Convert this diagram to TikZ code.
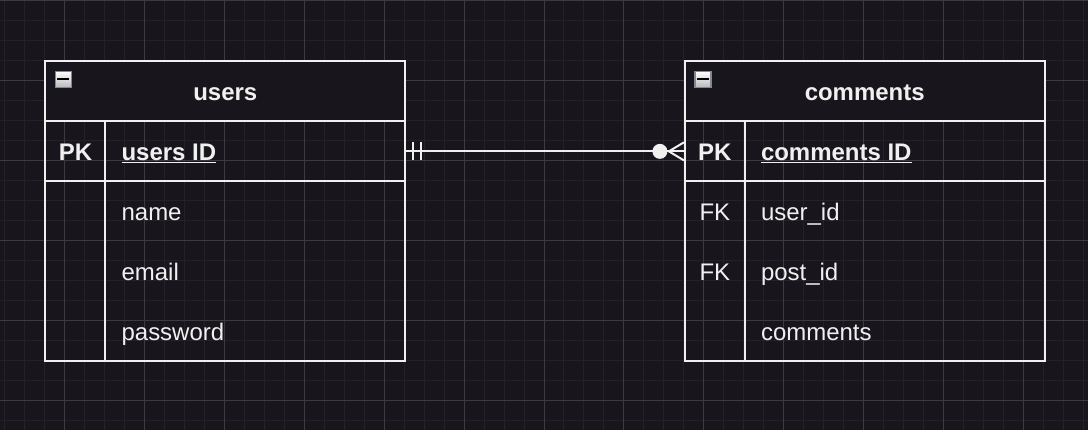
\documentclass[tikz,border=0pt]{standalone}
\usepackage{fontspec}
\setmainfont{Liberation Sans}
\definecolor{bgdark}{RGB}{24,22,28}
\definecolor{gridminor}{RGB}{36,34,41}
\definecolor{gridmajor}{RGB}{60,59,64}
\definecolor{linewhite}{RGB}{240,240,240}
\definecolor{iconedge}{RGB}{128,136,150}

\begin{document}
\begin{tikzpicture}[x=1pt, y=-1pt,
    minor/.style={gridminor, line width=1pt},
    major/.style={gridmajor, line width=1pt},
    cell/.style={draw=linewhite, line width=2pt, inner sep=0pt},
    header/.style={cell, fill=bgdark, minimum width=360pt, minimum height=60pt,
        text=linewhite, font=\fontsize{24}{28}\selectfont\bfseries},
    keytext/.style={anchor=base, inner sep=0pt, text=linewhite, font=\fontsize{24}{28}\selectfont},
    fieldtext/.style={anchor=base west, inner sep=0pt, text=linewhite, font=\fontsize{24}{28}\selectfont},
    icon/.style={draw=iconedge, line width=1.5pt, top color=white, bottom color=gray!55,
        minimum size=16pt, inner sep=0pt},
    relation/.style={linewhite, line width=2pt}]

            % Background and grid
            \fill[bgdark] (0,0) rectangle (1088,430);
            \foreach \x in {4,24,...,1084} \draw[minor] (\x,0) -- (\x,430);
            \foreach \y in {20,40,...,420} \draw[minor] (0,\y) -- (1088,\y);
            \foreach \x in {64,144,...,1024} \draw[major] (\x,0) -- (\x,430);
            \foreach \y in {0,80,...,400} \draw[major] (0,\y) -- (1088,\y);

            % users table
            \node[header] (users) at (225,91) {};
            \node[keytext, font=\fontsize{24}{28}\selectfont\bfseries] (userstitle) at (225,100) {users};
            \node[icon] (usersicon) at (63,79) {};
            \draw[black, line width=2pt] ([xshift=-6pt]usersicon.center) -- ([xshift=6pt]usersicon.center);
            \node[cell, minimum width=60pt, minimum height=60pt] (userspkcell) at (75,151) {};
            \node[cell, minimum width=300pt, minimum height=60pt] (usersid) at (255,151) {};
            \node[cell, minimum width=60pt, minimum height=180pt] (userskeys) at (75,271) {};
            \node[cell, minimum width=300pt, minimum height=180pt] (usersfields) at (255,271) {};
            \node[keytext, font=\fontsize{24}{28}\selectfont\bfseries] (userspk) at (75,160) {PK};
            \node[fieldtext, font=\fontsize{24}{28}\selectfont\bfseries] (usersidtext) at (121,160) {\underline{users ID}};
            \foreach \f [count=\i] in {name,email,password} {
                \node[fieldtext] (ufield\i) at (121,{160+60*\i}) {\f};
            }

            % comments table
            \node[header] (comments) at (865,91) {};
            \node[keytext, font=\fontsize{24}{28}\selectfont\bfseries] (commentstitle) at (865,100) {comments};
            \node[icon] (commentsicon) at (703,79) {};
            \draw[black, line width=2pt] ([xshift=-6pt]commentsicon.center) -- ([xshift=6pt]commentsicon.center);
            \node[cell, minimum width=60pt, minimum height=60pt] (commentspkcell) at (715,151) {};
            \node[cell, minimum width=300pt, minimum height=60pt] (commentsid) at (895,151) {};
            \node[cell, minimum width=60pt, minimum height=180pt] (commentskeys) at (715,271) {};
            \node[cell, minimum width=300pt, minimum height=180pt] (commentsfields) at (895,271) {};
            \node[keytext, font=\fontsize{24}{28}\selectfont\bfseries] (commentspk) at (715,160) {PK};
            \node[fieldtext, font=\fontsize{24}{28}\selectfont\bfseries] (commentsidtext) at (761,160) {\underline{comments ID}};
            \foreach \f [count=\i] in {user\_id,post\_id,comments} {
                \node[fieldtext] (cfield\i) at (761,{160+60*\i}) {\f};
            }
            \foreach \i in {1,2} {
                \node[keytext] (cfk\i) at (715,{160+60*\i}) {FK};
            }

            % one users to many comments
            \draw[relation] (usersid.east) -- (commentspkcell.west);
            \foreach \dx in {7,15} {
                \draw[relation] ([xshift=\dx pt, yshift=-9pt]usersid.east) -- ([xshift=\dx pt, yshift=9pt]usersid.east);
            }
            \fill[linewhite] ([xshift=-24pt]commentspkcell.west) circle (7.5pt);
            \draw[relation] ([yshift=-9pt]commentspkcell.west) -- ([xshift=-15pt]commentspkcell.west) -- ([yshift=9pt]commentspkcell.west);
        \end{tikzpicture}
\end{document}
